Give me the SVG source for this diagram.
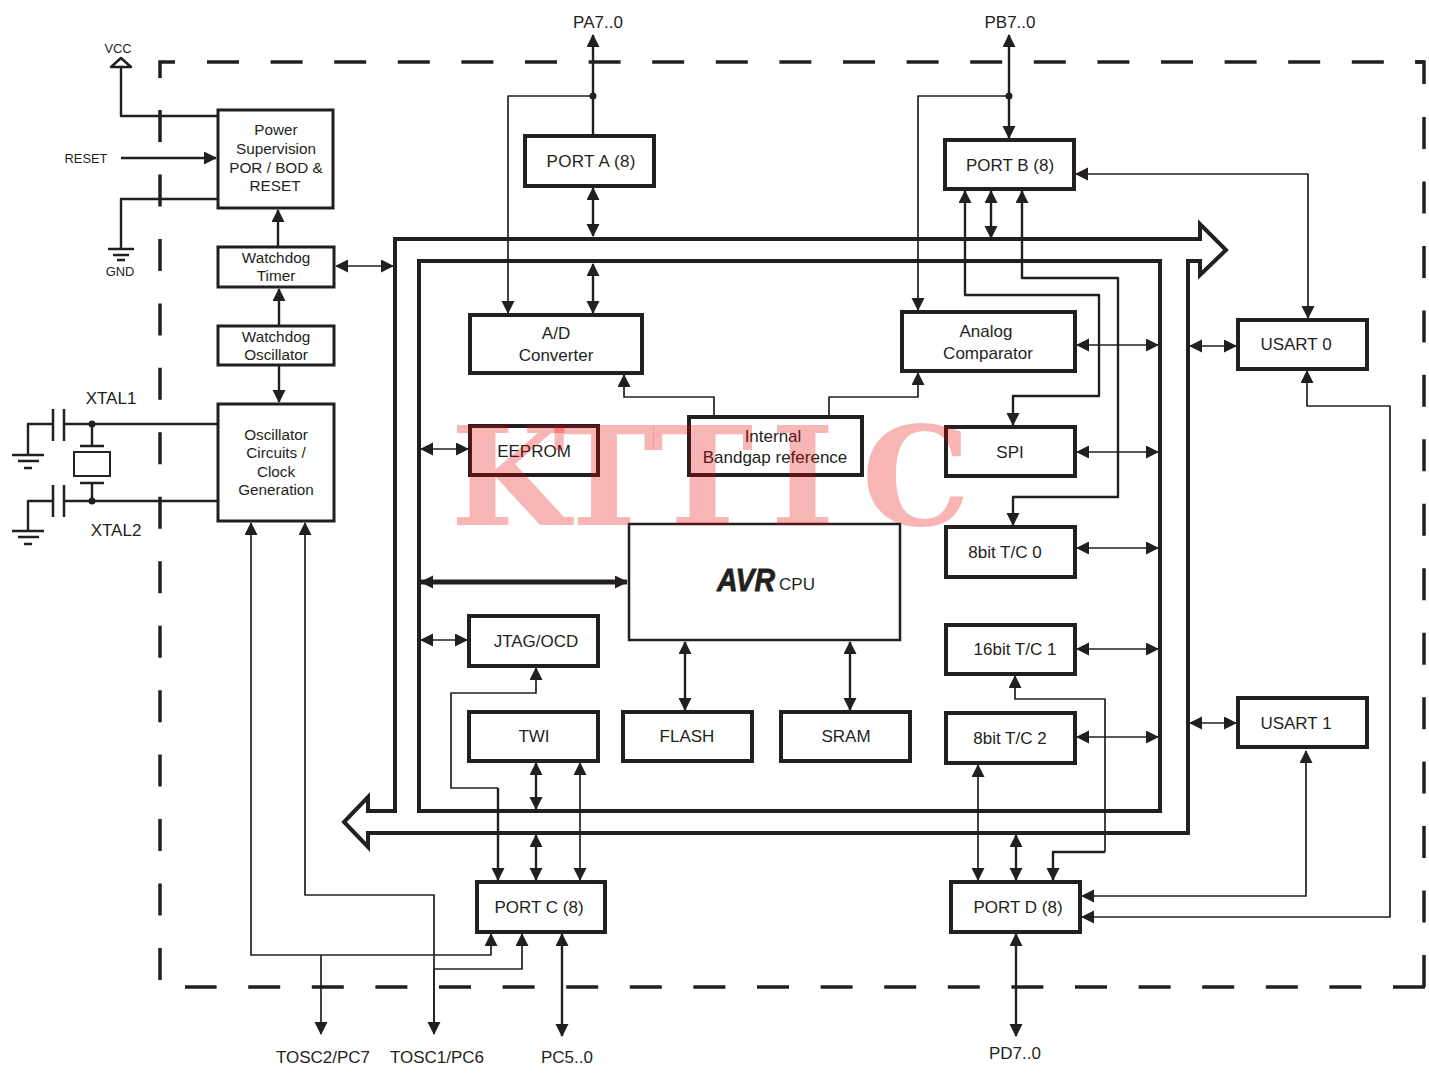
<svg xmlns="http://www.w3.org/2000/svg" width="1429" height="1078" viewBox="0 0 1429 1078">
<defs>
<marker id="a" markerUnits="userSpaceOnUse" markerWidth="16" markerHeight="16" refX="12" refY="6.5" orient="auto-start-reverse"><path d="M0 0L13 6.5L0 13Z" fill="#231f20"/></marker>
</defs>
<style>
text{font-family:"Liberation Sans",Arial,sans-serif;fill:#231f20;text-anchor:middle;font-size:17px}
.s{font-size:15.3px}
.xs{font-size:12.9px}
.b{fill:#fff;stroke:#231f20;stroke-width:4}
.t{fill:#fff;stroke:#231f20;stroke-width:3}
.c{fill:none;stroke:#231f20;stroke-width:1.7;stroke-linejoin:round}
.w{stroke-width:2.4}
.ar{marker-end:url(#a)}
.d{marker-start:url(#a);marker-end:url(#a)}
.st{marker-start:url(#a)}
.bd{fill:none;stroke:#231f20;stroke-width:3.5}
</style>
<rect width="1429" height="1078" fill="#fff"/>
<g id="boundary">
<path class="bd" d="M175 62H160V78M1415 62H1424V84"/>
<path class="bd" stroke-dasharray="32 31.6" d="M207 62H1424"/>
<path class="bd" stroke-dasharray="32 32.46" d="M1424 117V987"/>
<path class="bd" stroke-dasharray="32 31.6" d="M1425 987H185"/>
<path class="bd" stroke-dasharray="32 32.46" d="M160 980V110"/>
</g>
<g id="bus">
<path d="M395 811V239H1200V224L1226 250L1200 275V261H1188V833H368V847L344 822L368 797V811Z" fill="#fff" stroke="#231f20" stroke-width="4"/>
<path d="M1200 241V259" stroke="#fff" stroke-width="4"/>
<rect x="419" y="261" width="741" height="550" fill="#fff" stroke="#231f20" stroke-width="4"/>
</g>
<g id="connectors">
<path class="c w ar" d="M593 136V35"/>
<path class="c st" d="M508 313V96H593"/>
<path class="c w d" d="M593 188V236"/>
<path class="c w d" d="M593 264V313"/>
<path class="c w d" d="M1009 35V138"/>
<path class="c st" d="M918 310V96H1009"/>
<path class="c w d" d="M965 191V295H1099V396H1013V425"/>
<path class="c w d" d="M1022 191V278H1118V497H1013V525"/>
<path class="c w d" d="M991 191V238"/>
<path class="c d" d="M1308 318V174H1076"/>
<path class="c d" d="M1307 371V406H1390V917H1082"/>
<path class="c d" d="M1306 751V896H1082"/>
<path class="c d" d="M1077 345H1158"/>
<path class="c d" d="M1077 452H1158"/>
<path class="c d" d="M1077 548H1158"/>
<path class="c d" d="M1077 649H1158"/>
<path class="c d" d="M1077 737H1158"/>
<path class="c d" d="M1190 346H1236"/>
<path class="c d" d="M1190 723H1236"/>
<path class="c ar" d="M714 417V397H624V375"/>
<path class="c ar" d="M829 417V397H918V373"/>
<path class="c d" d="M421 449H468"/>
<path class="c d" d="M421 640H467"/>
<path class="c d" style="stroke-width:5" d="M421 582H627"/>
<path class="c w d" d="M685 642V710"/>
<path class="c w d" d="M850 642V710"/>
<path class="c w d" d="M536 763V809"/>
<path class="c w d" d="M536 835V880"/>
<path class="c d" d="M580 763V880"/>
<path class="c st" d="M536 668V693H451V788H498"/>
<path class="c w ar" d="M498 788V880"/>
<path class="c d" d="M978 765V880"/>
<path class="c w d" d="M1016 835V880"/>
<path class="c st" d="M1015 676V699H1105V852"/>
<path class="c w ar" d="M1105 852H1053V880"/>
<path class="c w d" d="M1016 934V1036"/>
<path class="c w d" d="M562 934V1036"/>
<path class="c d" d="M251 523V955H491V934"/>
<path class="c ar" d="M321 955V1034"/>
<path class="c st" d="M305 523V895H434V1034"/>
<path class="c ar" d="M434 969V1034"/>
<path class="c ar" d="M434 969H522V934"/>
<path class="c w ar" d="M278 247V210"/>
<path class="c w ar" d="M279 326V289"/>
<path class="c w ar" d="M279 365V402"/>
<path class="c d" d="M336 266H393"/>
<path class="c w" d="M121 67V116H218"/>
<path class="c w ar" d="M121 158H216"/>
<path class="c w" d="M218 199H121V249"/>
<path class="c w" d="M218 424H64M52 424H28V455M218 501H64M52 501H28V531M92 424V445M92 484V501"/>
<circle cx="92" cy="424" r="3.5" fill="#231f20"/>
<circle cx="92" cy="501" r="3.5" fill="#231f20"/>
<circle cx="593" cy="96" r="3.5" fill="#231f20"/>
<circle cx="1009" cy="96" r="3.5" fill="#231f20"/>
</g>
<g id="vcc"><path d="M111 67L121 58L131 67Z" fill="#fff" stroke="#231f20" stroke-width="2.5" stroke-linejoin="round"/><text class="xs" x="118" y="53">VCC</text></g>
<g id="reset-label"><text class="xs" x="86" y="163">RESET</text></g>
<g id="gnd"><path d="M108 249H134M113 255H129M117 260H125" stroke="#231f20" stroke-width="2.5"/><text class="xs" x="120" y="276">GND</text></g>
<g id="crystal">
<path d="M53 409V441M64 409V441M53 485V517M64 485V517M80 446H104M80 483H104M12 455H44M18 461H39M24 468H32M12 531H44M18 537H39M24 544H32" stroke="#231f20" stroke-width="2.5" fill="none"/>
<rect x="74" y="452" width="36" height="24" fill="#fff" stroke="#231f20" stroke-width="2"/>
<text x="111" y="404">XTAL1</text><text x="116" y="536">XTAL2</text>
</g>
<g id="power"><rect class="t" x="218" y="110" width="115" height="98"/><text class="s" x="276" y="135">Power</text><text class="s" x="276" y="154">Supervision</text><text class="s" x="276" y="173">POR / BOD &amp;</text><text class="s" x="275" y="191">RESET</text></g>
<g id="watchdog-timer"><rect class="t" x="218" y="247" width="116" height="40"/><text class="s" x="276" y="263">Watchdog</text><text class="s" x="276" y="281">Timer</text></g>
<g id="watchdog-osc"><rect class="t" x="218" y="326" width="116" height="39"/><text class="s" x="276" y="342">Watchdog</text><text class="s" x="276" y="360">Oscillator</text></g>
<g id="oscillator"><rect class="t" x="218" y="404" width="116" height="117"/><text class="s" x="276" y="440">Oscillator</text><text class="s" x="276" y="458">Circuits /</text><text class="s" x="276" y="477">Clock</text><text class="s" x="276" y="495">Generation</text></g>
<g id="port-a"><rect class="b" x="525" y="136" width="129" height="50"/><text x="591" y="167" textLength="89">PORT A (8)</text></g>
<g id="port-b"><rect class="b" x="945" y="140" width="129" height="49"/><text x="1010" y="171">PORT B (8)</text></g>
<g id="adc"><rect class="b" x="470" y="315" width="172" height="58"/><text x="556" y="339">A/D</text><text x="556" y="361">Converter</text></g>
<g id="analog"><rect class="b" x="902" y="312" width="173" height="59"/><text x="986" y="337">Analog</text><text x="988" y="359">Comparator</text></g>
<g id="eeprom"><rect class="b" x="470" y="426" width="128" height="49"/><text x="534" y="457">EEPROM</text></g>
<g id="internal"><rect class="b" x="689" y="417" width="173" height="58"/><text x="773" y="442">Internal</text><text x="775" y="463">Bandgap reference</text></g>
<g id="spi"><rect class="b" x="946" y="427" width="129" height="49"/><text x="1010" y="458">SPI</text></g>
<g id="tc0"><rect class="b" x="946" y="527" width="129" height="50"/><text x="1005" y="558">8bit T/C 0</text></g>
<g id="tc1"><rect class="b" x="946" y="625" width="129" height="49"/><text x="1015" y="655">16bit T/C 1</text></g>
<g id="tc2"><rect class="b" x="946" y="713" width="129" height="50"/><text x="1010" y="744">8bit T/C 2</text></g>
<g id="cpu"><rect x="629" y="524" width="271" height="116" fill="#fff" stroke="#231f20" stroke-width="2.5"/><text x="746" y="591" style="font-size:32px;font-weight:bold;font-style:italic;stroke:#231f20;stroke-width:.8" textLength="58" lengthAdjust="spacingAndGlyphs">AVR</text><text x="797" y="590">CPU</text></g>
<g id="jtag"><rect class="b" x="469" y="616" width="129" height="50"/><text x="536" y="647">JTAG/OCD</text></g>
<g id="twi"><rect class="b" x="469" y="712" width="129" height="49"/><text x="534" y="742">TWI</text></g>
<g id="flash"><rect class="b" x="623" y="712" width="129" height="49"/><text x="687" y="742">FLASH</text></g>
<g id="sram"><rect class="b" x="781" y="712" width="129" height="49"/><text x="846" y="742">SRAM</text></g>
<g id="port-c"><rect class="b" x="477" y="882" width="128" height="50"/><text x="539" y="913">PORT C (8)</text></g>
<g id="port-d"><rect class="b" x="951" y="882" width="129" height="50"/><text x="1018" y="913">PORT D (8)</text></g>
<g id="usart0"><rect class="b" x="1238" y="320" width="129" height="49"/><text x="1296" y="350">USART 0</text></g>
<g id="usart1"><rect class="b" x="1238" y="698" width="129" height="49"/><text x="1296" y="729">USART 1</text></g>
<g id="pins"><text x="598" y="28">PA7..0</text><text x="1010" y="28">PB7..0</text><text x="323" y="1063">TOSC2/PC7</text><text x="437" y="1063">TOSC1/PC6</text><text x="567" y="1063">PC5..0</text><text x="1015" y="1059">PD7..0</text></g>
<text x="510 604 702.5 802.5 916" y="525" style="font-family:'DejaVu Serif',serif;font-size:137px;font-weight:bold;fill:#e30000;fill-opacity:.29">KTTIC</text>
</svg>
